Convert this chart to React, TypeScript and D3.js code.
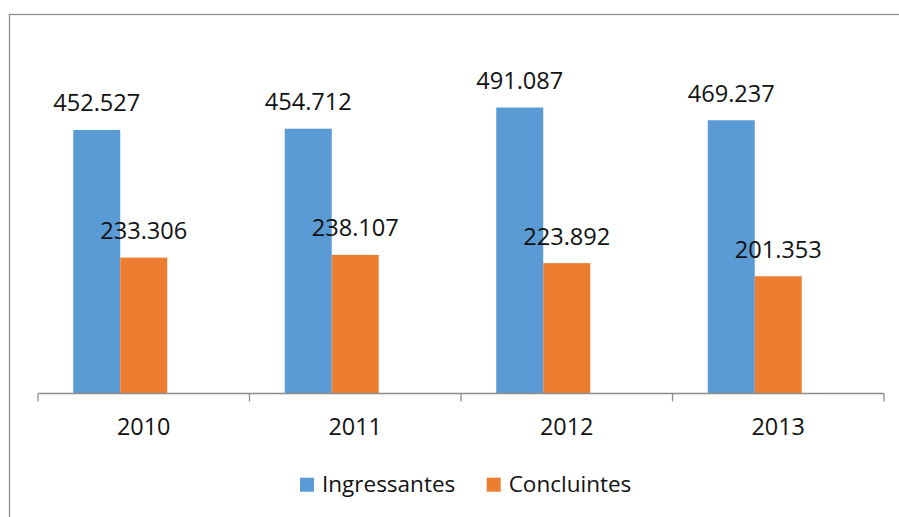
import React from "react";
import * as d3 from "d3";

const years = ["2010", "2011", "2012", "2013"];
const seriesNames = ["Ingressantes", "Concluintes"];
const ingressantes = [452.527, 454.712, 491.087, 469.237];
const concluintes = [233.306, 238.107, 223.892, 201.353];
const seriesColors = ["#5B9BD5", "#ED7D31"];

const W = 899;
const H = 517;
const FONT = "'Open Sans', 'Liberation Sans', Arial, sans-serif";

export default function App() {
  const values = [ingressantes, concluintes];
  const x0 = d3.scaleBand<string>().domain(years).range([38, 884]).padding(0);
  // Excel-style clustered layout with an empty third slot
  const x1 = d3
    .scaleBand<string>()
    .domain([...seriesNames, "__empty"])
    .range([0, x0.bandwidth()])
    .paddingInner(0)
    .paddingOuter(0.75);
  const y = d3.scaleLinear().domain([0, 600]).range([393.5, 44.1]);
  const fmt = (v: number) => v.toFixed(3);
  const boundaries = [...years.map((yr) => x0(yr)!), x0.range()[1]];

  return (
    <svg
      width={W}
      height={H}
      style={{ position: "absolute", left: 0, top: 0, background: "#fff" }}
      fontFamily={FONT}
    >
      <rect x={9.5} y={14.5} width={W + 10} height={H + 10} fill="#fff" stroke="#8c8c8c" strokeWidth={1.3} />
      {years.map((yr, i) =>
        seriesNames.map((s, j) => {
          const v = values[j][i];
          const bx = x0(yr)! + x1(s)!;
          return (
            <g key={yr + s}>
              <rect x={bx} y={y(v)} width={x1.bandwidth()} height={y(0) - y(v)} fill={seriesColors[j]} />
              <text
                x={bx + x1.bandwidth() / 2}
                y={y(v) - 18.5}
                textAnchor="middle"
                fontSize={23.6}
                fill="#111"
              >
                {fmt(v)}
              </text>
            </g>
          );
        })
      )}
      <line x1={boundaries[0]} x2={boundaries[boundaries.length - 1]} y1={y(0)} y2={y(0)} stroke="#8c8c8c" strokeWidth={1.3} />
      {boundaries.map((b, i) => (
        <line key={i} x1={b} x2={b} y1={y(0)} y2={y(0) + 8} stroke="#8c8c8c" strokeWidth={1.3} />
      ))}
      {years.map((yr) => (
        <text key={yr} x={x0(yr)! + x0.bandwidth() / 2} y={435} textAnchor="middle" fontSize={23.4} fill="#111">
          {yr}
        </text>
      ))}
      {seriesNames.map((s, j) => {
        const lx = [300, 486.7][j];
        return (
          <g key={s}>
            <rect x={lx} y={477.7} width={14} height={14} fill={seriesColors[j]} />
            <text x={lx + 22} y={491.5} fontSize={22.5} fill="#111">
              {s}
            </text>
          </g>
        );
      })}
    </svg>
  );
}
